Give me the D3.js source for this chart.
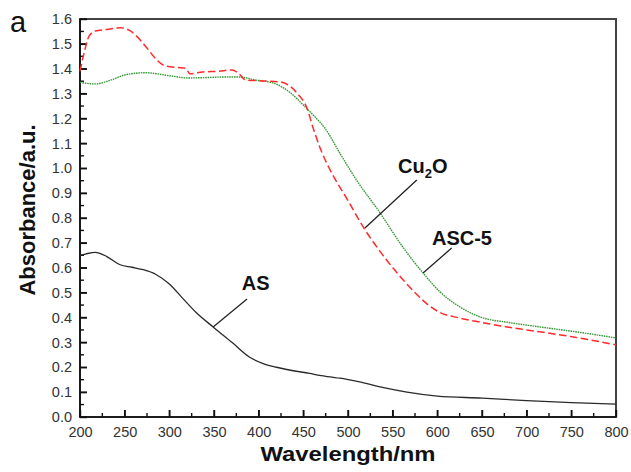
<!DOCTYPE html>
<html>
<head>
<meta charset="utf-8">
<script src="https://cdn.jsdelivr.net/npm/d3@7"></script>
<style>
  body { margin: 0; background: #fff; }
  svg { font-family: "Liberation Sans", Arial, sans-serif; }
  .axis text { font-size: 14.5px; fill: #333; }
  .axis path { display: none; }
  .axis line { stroke: #111; stroke-width: 1.4; }
</style>
</head>
<body>
<svg id="chart" width="631" height="472"></svg>
<script>
// wavelength (nm) / absorbance
var cu2oWave = [200, 205, 210, 217, 230, 245, 255, 262, 275, 284, 295, 310, 318, 323, 337, 355, 370, 378, 385, 400, 424, 435, 443, 454, 461, 470, 480, 500, 517, 535, 555, 575, 590, 603, 625, 650, 678, 700, 752, 800];
var cu2oAbs  = [1.39, 1.47, 1.53, 1.552, 1.558, 1.565, 1.555, 1.536, 1.483, 1.443, 1.412, 1.405, 1.402, 1.38, 1.387, 1.39, 1.395, 1.38, 1.355, 1.352, 1.347, 1.33, 1.302, 1.242, 1.162, 1.07, 0.993, 0.87, 0.764, 0.67, 0.579, 0.5, 0.45, 0.42, 0.398, 0.38, 0.362, 0.35, 0.322, 0.29];

var ascWave = [200, 217, 235, 250, 273, 300, 321, 345, 362, 379, 396, 416, 435, 450, 462, 474, 491, 510, 536, 560, 584, 603, 625, 648, 680, 715, 760, 800];
var ascAbs  = [1.345, 1.339, 1.355, 1.375, 1.384, 1.372, 1.363, 1.365, 1.367, 1.367, 1.355, 1.343, 1.305, 1.254, 1.21, 1.162, 1.06, 0.95, 0.82, 0.69, 0.579, 0.503, 0.443, 0.402, 0.38, 0.362, 0.34, 0.318];

var asWave = [200, 206, 217, 230, 245, 258, 271, 285, 300, 315, 330, 349, 371, 390, 405, 420, 457, 480, 491, 513, 540, 566, 600, 650, 700, 750, 800];
var asAbs  = [0.65, 0.655, 0.662, 0.645, 0.612, 0.602, 0.592, 0.573, 0.535, 0.477, 0.42, 0.362, 0.297, 0.24, 0.215, 0.2, 0.175, 0.161, 0.156, 0.141, 0.118, 0.1, 0.084, 0.076, 0.066, 0.058, 0.052];

var xTicks = [200, 250, 300, 350, 400, 450, 500, 550, 600, 650, 700, 750, 800];
var yTicks = [0.0, 0.1, 0.2, 0.3, 0.4, 0.5, 0.6, 0.7, 0.8, 0.9, 1.0, 1.1, 1.2, 1.3, 1.4, 1.5, 1.6];

// labels: name, point on curve, end of leader line, text anchor (data units)
var labelNames = ["Cu2O", "ASC-5", "AS"];
var labelOn    = [[519, 0.76], [584, 0.579], [349, 0.362]];
var labelEnd   = [[577, 0.953], [616, 0.679], [387, 0.474]];
var labelAt    = [[556, 0.981], [594, 0.691], [381, 0.51]];

var margin = {top: 19, right: 15, bottom: 55, left: 80};
var svg = d3.select('#chart');
var width = 631 - margin.left - margin.right;
var height = 472 - margin.top - margin.bottom;

var x = d3.scaleLinear().domain([200, 800]).range([0, width]);
var y = d3.scaleLinear().domain([0, 1.6]).range([height, 0]);

var g = svg.append('g')
    .attr('transform', 'translate(' + margin.left + ',' + margin.top + ')');

// frame
g.append('rect')
    .attr('x', 0).attr('y', 0)
    .attr('width', width).attr('height', height)
    .attr('fill', 'none')
    .attr('stroke', '#444')
    .attr('stroke-width', 2);
g.append('line').attr('x1', 0).attr('x2', 0).attr('y1', 0).attr('y2', height)
    .attr('stroke', '#111').attr('stroke-width', 1.6);
g.append('line').attr('x1', 0).attr('x2', width).attr('y1', height).attr('y2', height)
    .attr('stroke', '#111').attr('stroke-width', 1.6);

// minor tick values
var xMinor = d3.range(225, 800, 50);
var yMinor = d3.range(0.05, 1.6, 0.1);

// tick labels
g.append('g').attr('class', 'axis')
    .attr('transform', 'translate(0,' + height + ')')
    .call(d3.axisBottom(x).tickValues(xTicks).tickSizeInner(-7).tickSizeOuter(0).tickPadding(10));
g.append('g').attr('class', 'axis')
    .call(d3.axisLeft(y).tickValues(yTicks).tickSizeInner(-7).tickSizeOuter(0).tickPadding(8)
        .tickFormat(d3.format('.1f')));

// inward tick marks
var ticks = g.append('g').attr('stroke', '#111').attr('stroke-width', 1.4);
ticks.selectAll('.xt').data(xTicks.concat(xMinor)).enter().append('line')
    .attr('x1', function(d){ return x(d); })
    .attr('x2', function(d){ return x(d); })
    .attr('y1', height)
    .attr('y2', function(d){ return height - (d % 50 === 0 ? 7 : 4); });
ticks.selectAll('.yt').data(yTicks.map(function(d){ return [d, 7]; })
        .concat(yMinor.map(function(d){ return [d, 4]; }))).enter().append('line')
    .attr('x1', 0)
    .attr('x2', function(d){ return d[1]; })
    .attr('y1', function(d){ return y(d[0]); })
    .attr('y2', function(d){ return y(d[0]); });

function pairs(xs, ys) {
    return xs.map(function(d, i){ return [d, ys[i]]; });
}

var line = d3.line()
    .x(function(d){ return x(d[0]); })
    .y(function(d){ return y(d[1]); })
    .curve(d3.curveMonotoneX);

g.append('path')
    .datum(pairs(asWave, asAbs))
    .attr('d', line)
    .attr('fill', 'none')
    .attr('stroke', '#2a2a2a')
    .attr('stroke-width', 1.3);

g.append('path')
    .datum(pairs(ascWave, ascAbs))
    .attr('d', line)
    .attr('fill', 'none')
    .attr('stroke', '#3a9a3a')
    .attr('stroke-width', 1.4)
    .attr('stroke-dasharray', '1.6,0.8');

g.append('path')
    .datum(pairs(cu2oWave, cu2oAbs))
    .attr('d', line)
    .attr('fill', 'none')
    .attr('stroke', '#ff2a2a')
    .attr('stroke-width', 1.5)
    .attr('stroke-dasharray', '7.5,3.5');

// leader lines and labels
labelNames.forEach(function(name, i) {
    g.append('line')
        .attr('x1', x(labelOn[i][0])).attr('y1', y(labelOn[i][1]))
        .attr('x2', x(labelEnd[i][0])).attr('y2', y(labelEnd[i][1]))
        .attr('stroke', '#222')
        .attr('stroke-width', 1.3);

    var t = g.append('text')
        .attr('x', x(labelAt[i][0]))
        .attr('y', y(labelAt[i][1]))
        .attr('font-size', '20px')
        .attr('font-weight', 'bold')
        .attr('fill', '#111');
    if (name === 'Cu2O') {
        t.append('tspan').text('Cu');
        t.append('tspan').attr('font-size', '13px').attr('dy', 5).text('2');
        t.append('tspan').attr('dy', -5).text('O');
    } else {
        t.text(name);
    }
});

// axis titles
svg.append('text')
    .attr('x', margin.left + width / 2)
    .attr('y', 461)
    .attr('text-anchor', 'middle')
    .attr('font-size', '21px')
    .attr('font-weight', 'bold')
    .attr('fill', '#111')
    .attr('textLength', 175)
    .attr('lengthAdjust', 'spacingAndGlyphs')
    .text('Wavelength/nm');

svg.append('text')
    .attr('transform', 'translate(35,210) rotate(-90)')
    .attr('text-anchor', 'middle')
    .attr('font-size', '22px')
    .attr('font-weight', 'bold')
    .attr('fill', '#111')
    .text('Absorbance/a.u.');

svg.append('text')
    .attr('x', 10)
    .attr('y', 32)
    .attr('font-size', '29px')
    .attr('fill', '#111')
    .text('a');
</script>
</body>
</html>
